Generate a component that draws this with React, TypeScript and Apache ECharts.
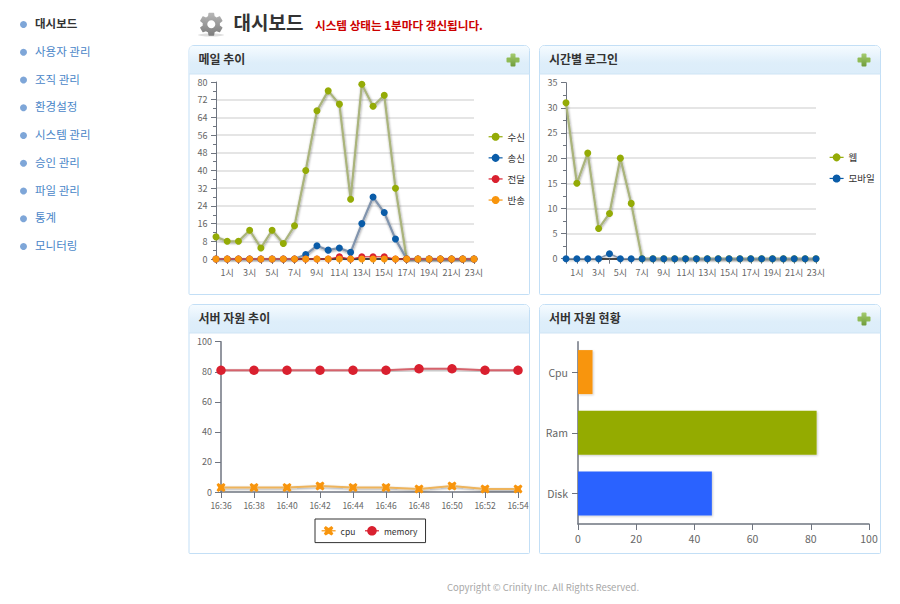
import React, { useEffect, useRef } from "react";
import * as echarts from "echarts";

const menuItems = ["대시보드", "사용자 관리", "조직 관리", "환경설정", "시스템 관리", "승인 관리", "파일 관리", "통계", "모니터링"];
const hours = ["0시","1시","2시","3시","4시","5시","6시","7시","8시","9시","10시","11시","12시","13시","14시","15시","16시","17시","18시","19시","20시","21시","22시","23시"];
const mailIn = [10,8,8,13,5,13,7,15,40,67,76,70,27,79,69,74,32,0,0,0,0,0,0,0];
const mailOut = [0,0,0,0,0,0,0,0,2,6,4,5,3,16,28,21,9,0,0,0,0,0,0,0];
const mailRelay = [0,0,0,0,0,0,0,0,0,0,0,1,0,1,1,1,0,0,0,0,0,0,0,0];
const mailBounce = [0,0,0,0,0,0,0,0,0,0,0,0,0,0,0,0,0,0,0,0,0,0,0,0];
const loginWeb = [31,15,21,6,9,20,11,0,0,0,0,0,0,0,0,0,0,0,0,0,0,0,0,0];
const loginMobile = [0,0,0,0,1,0,0,0,0,0,0,0,0,0,0,0,0,0,0,0,0,0,0,0];
const times = ["16:36","16:38","16:40","16:42","16:44","16:46","16:48","16:50","16:52","16:54"];
const cpuValues = [3,3,3,4,3,3,2,4,2,2];
const memoryValues = [81,81,81,81,81,81,82,82,81,81];
const resourceNames = ["Disk", "Ram", "Cpu"];
const resourceValues = [46, 82, 5];
const resourceColors = ["#2962ff", "#94ab06", "#f8950d"];

const FONT = '"Noto Sans CJK KR", "Noto Sans", sans-serif';
const OLIVE = "#94ab06", BLUE = "#0a5ca8", RED = "#d9202f", ORANGE = "#f8950d";
const AXIS = "#6f7580", LABEL = "#666666";
const X_MARK = "path://M2 0L5 2L8 0L10 2L8 5L10 8L8 10L5 8L2 10L0 8L2 5L0 2Z";
const GEAR = "M19.43 12.98c.04-.32.07-.64.07-.98s-.03-.66-.07-.98l2.11-1.65c.19-.15.24-.42.12-.64l-2-3.46c-.12-.22-.39-.3-.61-.22l-2.49 1c-.52-.4-1.08-.73-1.69-.98l-.38-2.65C14.46 2.18 14.25 2 14 2h-4c-.25 0-.46.18-.49.42l-.38 2.65c-.61.25-1.17.59-1.69.98l-2.49-1c-.23-.09-.49 0-.61.22l-2 3.46c-.13.22-.07.49.12.64l2.11 1.65c-.04.32-.07.65-.07.98s.03.66.07.98l-2.11 1.65c-.19.15-.24.42-.12.64l2 3.46c.12.22.39.3.61.22l2.49-1c.52.4 1.08.73 1.69.98l.38 2.65c.03.24.24.42.49.42h4c.25 0 .46-.18.49-.42l.38-2.65c.61-.25 1.17-.59 1.69-.98l2.49 1c.23.09.49 0 .61-.22l2-3.46c.12-.22.07-.49-.12-.64l-2.01-1.65zM12 15.5c-1.93 0-3.5-1.57-3.5-3.5s1.57-3.5 3.5-3.5 3.5 1.57 3.5 3.5-1.57 3.5-3.5 3.5z";

echarts.graphic.registerShape("gearIcon", echarts.graphic.extendPath(GEAR, {}) as any);

const vGrad = (stops: [number, string][]) => ({
  type: "linear", x: 0, y: 0, x2: 0, y2: 1,
  colorStops: stops.map(([offset, color]) => ({ offset, color })),
});

function txt(x: number, y: number, text: string, fontSize: number, fill: string, fontWeight = "normal", textAlign = "left") {
  return { type: "text", x, y, z: 1, silent: true, style: { text, fontSize, fontFamily: FONT, fontWeight, fill, verticalAlign: "middle", align: textAlign } };
}

function panel(x: number, y: number, w: number, title: string, plus: boolean): any[] {
  const h = 249;
  const out: any[] = [
    { type: "rect", x, y, z: 0, silent: true, shape: { x: 0, y: 0, width: w, height: h, r: [5, 5, 1, 1] }, style: { fill: "#fff", stroke: "#c3dff6", lineWidth: 1 } },
    { type: "rect", x: x + 0.5, y: y + 0.5, z: 0, silent: true, shape: { x: 0, y: 0, width: w - 1, height: 28, r: [4, 4, 0, 0] }, style: { fill: vGrad([[0, "#f5fbff"], [0.6, "#deeefa"], [1, "#dcedfa"]]) } },
    { type: "line", z: 0, silent: true, shape: { x1: x, y1: y + 28.5, x2: x + w, y2: y + 28.5 }, style: { stroke: "#cfe4f5", lineWidth: 1 } },
    txt(x + 9.5, y + 13, title, 12, "#333333", "bold"),
  ];
  if (plus) {
    const px = x + w - 23, py = y + 8;
    out.push(
      { type: "rect", x: px, y: py + 4, z: 1, silent: true, shape: { x: 0, y: 0, width: 13, height: 5, r: 1 }, style: { fill: "#8fbb55" } },
      { type: "rect", x: px + 4, y: py, z: 1, silent: true, shape: { x: 0, y: 0, width: 5, height: 13, r: 1 }, style: { fill: vGrad([[0, "#a5cc70"], [1, "#6f9c3a"]]) } },
    );
  }
  return out;
}

function lineSeries(name: string, data: number[], color: string, axisIndex: number, size: number, lineColor: string, width: number, symbol = "circle") {
  return {
    name, type: "line", data, xAxisIndex: axisIndex, yAxisIndex: axisIndex, symbol, symbolSize: size, showSymbol: true, showAllSymbol: true,
    color,
    lineStyle: { color: lineColor, width, opacity: 1, shadowColor: "rgba(0,0,0,0.4)", shadowBlur: 2.5, shadowOffsetX: 0.5, shadowOffsetY: 1 },
    itemStyle: { color, opacity: 1 },
    emphasis: { disabled: true }, silent: true, clip: false,
  };
}

const legendLine = { color: "inherit", width: 1.2, opacity: 1, shadowBlur: 0, shadowOffsetX: 0, shadowOffsetY: 0, shadowColor: "transparent" };

function sideLegend(names: string[], colors: string[], left: number, top: number) {
  return {
    data: names.map((name, i) => ({ name, lineStyle: { ...legendLine, color: colors[i] } })),
    orient: "vertical", left, top, padding: 0, itemWidth: 14, itemHeight: 10, itemGap: 11.6,
    textStyle: { fontSize: 9.5, fontFamily: FONT, color: "#333333" },
    selectedMode: false,
  };
}

function hourAxis(gridIndex: number) {
  return {
    type: "category", gridIndex, data: hours, boundaryGap: false,
    axisLine: { show: true, onZero: false, lineStyle: { color: "#4a4a4a", width: 2.2 } },
    axisTick: { show: true, interval: 0, length: 5, lineStyle: { color: AXIS } },
    axisLabel: { interval: (i: number) => i % 2 === 1, margin: 9, fontSize: 9, fontFamily: FONT, color: LABEL },
    splitLine: { show: false },
  };
}

function countAxis(gridIndex: number, max: number, interval: number) {
  return {
    type: "value", gridIndex, min: 0, max, interval,
    axisLine: { show: true, lineStyle: { color: AXIS, width: 1 } },
    axisTick: { show: true, length: 5, lineStyle: { color: AXIS } },
    minorTick: { show: true, splitNumber: 2, length: 3, lineStyle: { color: AXIS } },
    axisLabel: { margin: 8.5, padding: [0, 0, 2, 0], fontSize: 9, fontFamily: FONT, color: LABEL },
    splitLine: { show: true, showMaxLine: false, lineStyle: { color: "#dcdcdc", width: 1.5 } },
  };
}

export default function App() {
  const ref = useRef<HTMLDivElement>(null);
  useEffect(() => {
    const chart = echarts.init(ref.current!, undefined, { renderer: "svg", width: 900, height: 604 });
    const graphics: any[] = [
      { type: "rect", x: 0, y: 0, z: -1, silent: true, shape: { x: 0, y: 0, width: 900, height: 604 }, style: { fill: "#fff" } },
      ...panel(189, 45.5, 340.5, "메일 추이", true),
      ...panel(539.5, 45.5, 341, "시간별 로그인", true),
      ...panel(189, 304.5, 340.5, "서버 자원 추이", false),
      ...panel(539.5, 304.5, 341, "서버 자원 현황", true),
      { type: "ellipse", z: 1, silent: true, shape: { cx: 211, cy: 35, rx: 13, ry: 1.5 }, style: { fill: "#dddddd" } },
      { type: "gearIcon", x: 197.5, y: 10.5, scaleX: 1.15, scaleY: 1.15, z: 2, silent: true, style: { fill: vGrad([[0, "#b8b8b8"], [1, "#7c7c7c"]]) } },
      txt(233.5, 21.5, "대시보드", 19, "#333333", "bold"),
      txt(315, 24.5, "시스템 상태는 1분마다 갱신됩니다.", 11.6, "#cc0000", "bold"),
      txt(543, 587, "Copyright © Crinity Inc. All Rights Reserved.", 9.5, "#a8a8a8", "normal", "center"),
    ];
    menuItems.forEach((m, i) => {
      const y = 23 + i * 27.75;
      graphics.push(
        { type: "circle", z: 1, silent: true, shape: { cx: 23.5, cy: y + 1.5, r: 3.5 }, style: { fill: "#7ea6d8" } },
        txt(35, y, m, 11.5, i === 0 ? "#333333" : "#4a86c8", i === 0 ? "bold" : "normal"),
      );
    });

    chart.setOption({
      animation: false,
      backgroundColor: "#ffffff",
      textStyle: { fontFamily: FONT },
      graphic: { elements: graphics },
      grid: [
        { left: 216, top: 82, width: 258, height: 177, outerBoundsMode: "none" },
        { left: 566, top: 82.7, width: 250, height: 176, outerBoundsMode: "none" },
        { left: 221, top: 341.7, width: 297, height: 150.3, outerBoundsMode: "none" },
        { left: 578, top: 341.7, width: 291, height: 182.3, outerBoundsMode: "none" },
      ],
      legend: [
        sideLegend(["수신", "송신", "전달", "반송"], [OLIVE, BLUE, RED, ORANGE], 488, 132),
        sideLegend(["웹", "모바일"], [OLIVE, BLUE], 829, 152.6),
        {
          data: [
            { name: "cpu", lineStyle: { ...legendLine, color: ORANGE } },
            { name: "memory", lineStyle: { ...legendLine, color: RED } },
          ],
          orient: "horizontal", left: 315, top: 519, padding: [7, 8, 7, 6],
          itemWidth: 14, itemHeight: 12, itemGap: 9, borderColor: "#333333", borderWidth: 1,
          textStyle: { fontSize: 8.5, fontFamily: FONT, color: "#333333" },
          selectedMode: false,
        },
      ],
      xAxis: [
        hourAxis(0),
        hourAxis(1),
        {
          type: "category", gridIndex: 2, data: times, boundaryGap: false,
          axisLine: { show: true, lineStyle: { color: AXIS, width: 1.5 } },
          axisTick: { show: true, interval: 0, length: 6, lineStyle: { color: AXIS } },
          axisLabel: { interval: 0, margin: 9, fontSize: 8.5, fontFamily: FONT, color: LABEL },
          splitLine: { show: false },
        },
        {
          type: "value", gridIndex: 3, min: 0, max: 100, interval: 20,
          axisLine: { show: true, lineStyle: { color: AXIS, width: 1.5 } },
          axisTick: { show: true, length: 6, lineStyle: { color: AXIS } },
          axisLabel: { margin: 9, fontSize: 10.5, fontFamily: FONT, color: LABEL },
          splitLine: { show: false },
        },
      ],
      yAxis: [
        countAxis(0, 80, 8),
        countAxis(1, 35, 5),
        {
          type: "value", gridIndex: 2, min: 0, max: 100, interval: 20,
          axisLine: { show: true, lineStyle: { color: AXIS, width: 1.5 } },
          axisTick: { show: true, length: 6, lineStyle: { color: AXIS } },
          axisLabel: { margin: 9, padding: [0, 0, 2, 0], fontSize: 9, fontFamily: FONT, color: LABEL },
          splitLine: { show: false },
        },
        {
          type: "category", gridIndex: 3, data: resourceNames,
          axisLine: { show: true, lineStyle: { color: AXIS, width: 1.5 } },
          axisTick: { show: true, alignWithLabel: true, length: 6, lineStyle: { color: AXIS } },
          axisLabel: { margin: 10, padding: [0, 0, 2, 0], fontSize: 10.5, fontFamily: FONT, color: LABEL },
          splitLine: { show: false },
        },
      ],
      series: [
        lineSeries("수신", mailIn, OLIVE, 0, 7, "#aab47c", 2.2),
        lineSeries("송신", mailOut, BLUE, 0, 7, "#8194ad", 2.2),
        lineSeries("전달", mailRelay, RED, 0, 7, RED, 1),
        lineSeries("반송", mailBounce, ORANGE, 0, 7, "#c8a060", 1),
        lineSeries("웹", loginWeb, OLIVE, 1, 7, "#aab47c", 2.2),
        lineSeries("모바일", loginMobile, BLUE, 1, 7, "#8194ad", 1.5),
        lineSeries("cpu", cpuValues, ORANGE, 2, 9, "#eeb45c", 1.8, X_MARK),
        lineSeries("memory", memoryValues, RED, 2, 9.5, "#d5636c", 1.8),
        {
          type: "bar", xAxisIndex: 3, yAxisIndex: 3, barWidth: 44, silent: true,
          data: resourceValues.map((value, i) => ({
            value,
            itemStyle: { color: resourceColors[i], shadowColor: "rgba(0,0,0,0.2)", shadowBlur: 2, shadowOffsetX: 1, shadowOffsetY: 1 },
          })),
        },
      ],
    });
    return () => chart.dispose();
  }, []);
  return <div ref={ref} style={{ position: "absolute", left: 0, top: 0, width: 900, height: 604 }} />;
}
